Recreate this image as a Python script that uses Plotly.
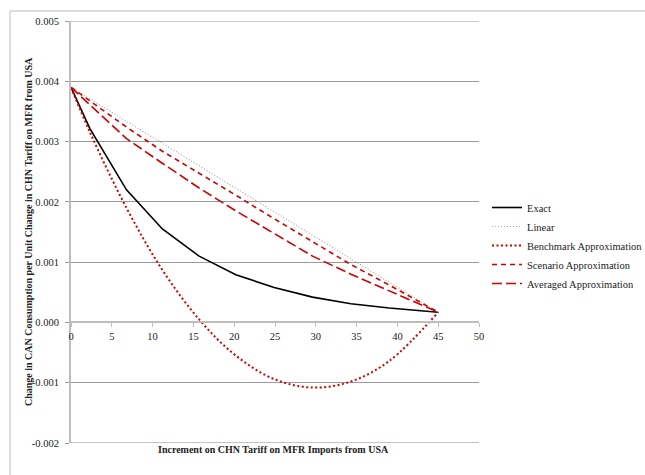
import plotly.graph_objects as go

# Tariff increments at which each series was evaluated
increment = [0, 2.3, 6.8, 11.2, 15.7, 20.2, 24.9, 29.6, 34.3, 39.0, 45]

exact = [0.00390, 0.00322, 0.00220, 0.00155, 0.00110, 0.00079, 0.00058,
         0.00042, 0.00031, 0.00024, 0.00017]
linear_x = [0, 45]
linear = [0.00390, 0.00017]
benchmark = [0.00390, 0.00316, 0.00190, 0.00087, 0.00005, -0.00055, -0.00094,
             -0.00108, -0.00098, -0.00064, 0.00017]
scenario = [0.00390, 0.00368, 0.00324, 0.00284, 0.00248, 0.00211, 0.00172,
            0.00134, 0.00096, 0.00062, 0.00017]
averaged = [0.00390, 0.00361, 0.00305, 0.00264, 0.00223, 0.00185, 0.00148,
            0.00110, 0.00080, 0.00052, 0.00017]

y_ticks = [-0.002, -0.001, 0.000, 0.001, 0.002, 0.003, 0.004, 0.005]
y_tick_text = ["-0.002", "-0.001", "0.000", "0.001", "0.002", "0.003", "0.004", "0.005"]
x_ticks = [0, 5, 10, 15, 20, 25, 30, 35, 40, 45, 50]

x_title = "Increment on CHN Tariff on MFR Imports from USA"
y_title = "Change in CAN Consumption per Unit Change in CHN Tariff on MFR from USA"

FONT = "'Liberation Serif', 'DejaVu Serif', serif"
RED = "#d00000"

fig = go.Figure()
fig.add_trace(go.Scatter(x=increment, y=exact, name="Exact", mode="lines",
                         line=dict(color="black", width=1.6)))
fig.add_trace(go.Scatter(x=linear_x, y=linear, name="Linear", mode="lines",
                         line=dict(color="#a8a8a8", width=1.2, dash="1px,2px")))
fig.add_trace(go.Scatter(x=increment, y=benchmark, name="Benchmark Approximation",
                         mode="lines", line_shape="spline",
                         line=dict(color=RED, width=2, dash="2px,2.5px")))
fig.add_trace(go.Scatter(x=increment, y=scenario, name="Scenario Approximation",
                         mode="lines",
                         line=dict(color=RED, width=1.6, dash="5px,4px")))
fig.add_trace(go.Scatter(x=increment, y=averaged, name="Averaged Approximation",
                         mode="lines",
                         line=dict(color=RED, width=1.6, dash="10px,4px")))

# plot area spans 71..479 px horizontally and 21..443 px vertically
L, R, T, B = 71, 479, 21, 443
W, H = 645, 475
pw, ph = R - L, B - T
y_lo, y_hi = -0.002, 0.005
zero_frac = (0 - y_lo) / (y_hi - y_lo)

def px_x(p):
    return (p - L) / pw

def px_y(p):
    return (B - p) / ph

fig.update_layout(
    width=W, height=H,
    margin=dict(l=L, r=W - R, t=T, b=H - B, autoexpand=False),
    paper_bgcolor="white", plot_bgcolor="white",
    font=dict(family=FONT, size=10.5, color="#222"),
    showlegend=True,
    legend=dict(x=px_x(487), y=px_y(193), xanchor="left", yanchor="top",
                font=dict(family=FONT, size=10.5, color="#222"),
                itemwidth=30, bgcolor="rgba(0,0,0,0)", tracegroupgap=0),
    xaxis=dict(range=[0, 50], tickvals=x_ticks, anchor="free", position=zero_frac,
               showline=True, linecolor="#bdbdbd", linewidth=2,
               ticks="outside", ticklen=4, tickcolor="#bdbdbd", tickwidth=1,
               showgrid=False, zeroline=False,
               tickfont=dict(family=FONT, size=10.5, color="#222")),
    yaxis=dict(range=[y_lo, y_hi], tickvals=y_ticks, ticktext=y_tick_text,
               showline=True, linecolor="#bdbdbd", linewidth=2,
               ticks="outside", ticklen=4, tickcolor="#999", tickwidth=1,
               ticklabelstandoff=4,
               showgrid=True, gridcolor="#9a9a9a", gridwidth=1, zeroline=False,
               tickfont=dict(family=FONT, size=10.5, color="#222")),
    annotations=[
        dict(text="<b>" + x_title + "</b>", xref="paper", yref="paper",
             x=px_x(273), y=px_y(449), xanchor="center", yanchor="middle",
             showarrow=False, font=dict(family=FONT, size=10, color="#222")),
        dict(text="<b>" + y_title + "</b>", xref="paper", yref="paper",
             x=px_x(28), y=px_y(232), xanchor="center", yanchor="middle",
             textangle=-90, showarrow=False,
             font=dict(family=FONT, size=10, color="#222")),
    ],
    shapes=[
        # chart frame
        dict(type="rect", xref="paper", yref="paper",
             x0=px_x(10), y0=px_y(520), x1=px_x(700), y1=px_y(11),
             line=dict(color="#bdbdbd", width=1), layer="below"),
        # gridlines on the range limits
        dict(type="line", xref="paper", yref="y", x0=0, x1=1, y0=y_lo, y1=y_lo,
             line=dict(color="#c4c4c4", width=2), layer="below"),
        dict(type="line", xref="paper", yref="y", x0=0, x1=1, y0=y_hi, y1=y_hi,
             line=dict(color="#9a9a9a", width=1), layer="below"),
    ],
)

fig.write_html("out.html")
